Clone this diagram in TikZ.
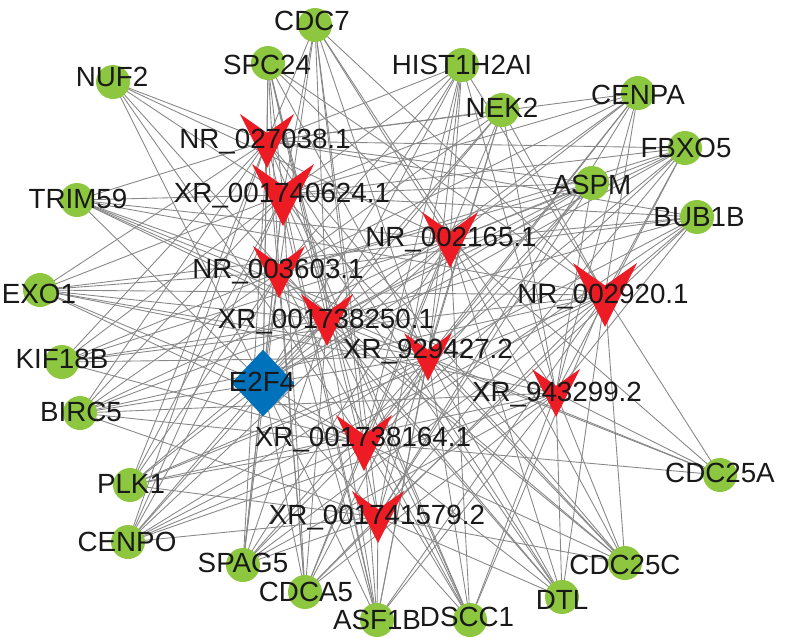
\documentclass[tikz,border=0pt]{standalone}
\usepackage{fontspec}
\setmainfont{Liberation Sans}
\usepackage{tikz}
\usetikzlibrary{backgrounds, shapes.geometric}
\definecolor{geneg}{RGB}{141,198,63}
\definecolor{rnared}{RGB}{237,28,36}
\definecolor{tfblue}{RGB}{0,114,188}
\definecolor{edgegray}{RGB}{135,135,135}

\begin{document}
\begin{tikzpicture}[x=0.02cm, y=-0.02cm,
    gene/.style={circle, fill=geneg, inner sep=0pt, minimum size=0.68cm},
    lbl/.style={inner sep=0pt, font=\fontsize{15.8}{16}\selectfont, text=black!90},
    edge/.style={edgegray, line width=0.5pt},
    vmark/.pic={\fill[rnared] (-1,-1) -- (0,-0.3) -- (1,-1) -- (0,1) -- cycle;}]
      \useasboundingbox (0,0) rectangle (787,637);

      % mRNA nodes
      \foreach \n/\x/\y in {cdc7/315/25, spc24/268/63, nuf2/113/82, hist/462/65, nek2/502/110,
          cenpa/638/93, fbxo5/685/148, aspm/592/183, bub1b/697/217, trim59/77/200, exo1/40/290,
          kif18b/62/362, birc5/80/413, plk1/130/485, cenpo/128/542, spag5/243/565, cdca5/305/592,
          asf1b/377/620, dscc1/470/620, dtl/562/597, cdc25c/625/563, cdc25a/720/475}
        \node[gene] (\n) at (\x, \y) {};

      % lncRNA nodes
      \foreach \n/\x/\y/\s in {nr027038/267/141/27, xr1740624/283/195/31, nr003603/279/272/26,
          xr1738250/327/320/26, nr002165/450/240/28, nr002920/605/295/32, xr929427/428/357/24,
          xr943299/556/393/24, xr1738164/364/443/28, xr1741579/378/517/26}
        {\coordinate (\n) at (\x, \y);
         \pic[scale=\s] at (\n) {vmark};}

      \node[diamond, fill=tfblue, minimum width=1.26cm, minimum height=1.34cm, inner sep=0pt] (e2f4) at (263, 383) {};

      % labels
      \foreach \n/\x/\y/\t in {cdc7/312/21/CDC7, spc24/267/65/SPC24, nuf2/112/77/NUF2,
          hist/462/65/HIST1H2AI, nek2/502/108/NEK2, cenpa/638/95/CENPA, fbxo5/686/148/FBXO5,
          aspm/592/185/ASPM, bub1b/699/217/BUB1B, trim59/78/199/TRIM59, exo1/39/294/EXO1,
          kif18b/62/359/KIF18B, birc5/81/412/BIRC5, plk1/131/484/PLK1, cenpo/127/542/CENPO,
          spag5/243/563/SPAG5, cdca5/306/592/CDCA5, asf1b/377/620/ASF1B, dscc1/467/617/DSCC1,
          dtl/562/600/DTL, cdc25c/625/565/CDC25C, cdc25a/720/473/CDC25A,
          nr027038/265/142/NR\_027038.1, xr1740624/282/196/XR\_001740624.1,
          nr003603/278/272/NR\_003603.1, xr1738250/326/322/XR\_001738250.1,
          nr002165/451/240/NR\_002165.1, nr002920/603/297/NR\_002920.1,
          xr929427/428/352/XR\_929427.2, xr943299/557/395/XR\_943299.2,
          xr1738164/363/440/XR\_001738164.1, xr1741579/377/518/XR\_001741579.2, e2f4/262/382/E2F4}
        \node[lbl] (\n-t) at (\x, \y) {\t};

      % interactions
      \begin{scope}[on background layer]
        \foreach \g/\ls in {
            cdc7/{nr027038,xr1740624,nr003603,xr1738250,nr002165,nr002920,xr929427,xr943299,xr1738164,xr1741579},
            spc24/{nr027038,xr1740624,nr003603,xr1738250,nr002165,nr002920,xr929427,xr1738164,xr1741579,e2f4},
            nuf2/{nr027038,xr1740624,xr1738250,nr002165,xr1738164,e2f4},
            hist/{nr027038,xr1740624,nr003603,xr1738250,nr002165,nr002920,xr929427,xr943299,xr1738164,xr1741579,e2f4},
            nek2/{nr027038,xr1740624,nr003603,xr1738250,nr002920,xr929427,xr943299,xr1738164,xr1741579,e2f4},
            cenpa/{nr027038,xr1740624,nr003603,xr1738250,nr002165,nr002920,xr929427,xr943299,xr1738164,xr1741579},
            fbxo5/{nr027038,xr1740624,nr003603,xr1738250,nr002165,nr002920,xr929427,xr943299,xr1738164,xr1741579,e2f4},
            aspm/{nr027038,xr1740624,nr003603,xr1738250,nr002165,xr929427,xr943299,xr1738164,xr1741579,e2f4},
            bub1b/{nr027038,xr1740624,nr003603,xr1738250,nr002165,nr002920,xr929427,xr943299,xr1738164,xr1741579},
            trim59/{nr027038,xr1740624,nr003603,xr1738250,nr002165,nr002920,xr929427,xr943299,e2f4},
            exo1/{nr027038,xr1740624,nr003603,xr1738250,nr002165,nr002920,xr929427,xr943299,xr1738164,e2f4},
            kif18b/{nr027038,xr1740624,nr003603,xr1738250,nr002165,nr002920,xr929427,xr1738164},
            birc5/{nr027038,xr1740624,nr003603,xr1738250,nr002165,nr002920,xr929427,xr943299,xr1738164,xr1741579},
            plk1/{nr027038,xr1740624,nr003603,xr1738250,nr002165,nr002920,xr929427,xr943299,xr1738164,xr1741579},
            cenpo/{nr027038,xr1740624,nr003603,xr1738250,nr002165,nr002920,xr929427,xr943299,xr1738164,xr1741579,e2f4},
            spag5/{nr027038,xr1740624,nr003603,xr1738250,nr002165,nr002920,xr929427,xr943299,xr1738164,xr1741579,e2f4},
            cdca5/{nr027038,xr1740624,nr003603,xr1738250,nr002165,nr002920,xr929427,xr943299,xr1738164,xr1741579,e2f4},
            asf1b/{nr027038,xr1740624,nr003603,xr1738250,nr002165,nr002920,xr929427,xr943299,xr1738164,xr1741579,e2f4},
            dscc1/{nr027038,xr1740624,nr003603,xr1738250,nr002165,nr002920,xr929427,xr943299,xr1738164,xr1741579},
            dtl/{nr027038,xr1740624,nr003603,xr1738250,nr002165,nr002920,xr929427,xr943299,xr1738164,xr1741579},
            cdc25c/{nr027038,xr1740624,nr003603,xr1738250,nr002165,nr002920,xr929427,xr943299,xr1738164,xr1741579},
            cdc25a/{xr1738250,nr002165,nr002920,xr929427,xr943299,xr1738164},
            e2f4/{nr027038,xr1740624,nr003603,xr1738250,xr1738164,xr1741579}}
          \foreach \l in \ls
            \draw[edge] (\g.center) -- (\l);
      \end{scope}
    \end{tikzpicture}
\end{document}
